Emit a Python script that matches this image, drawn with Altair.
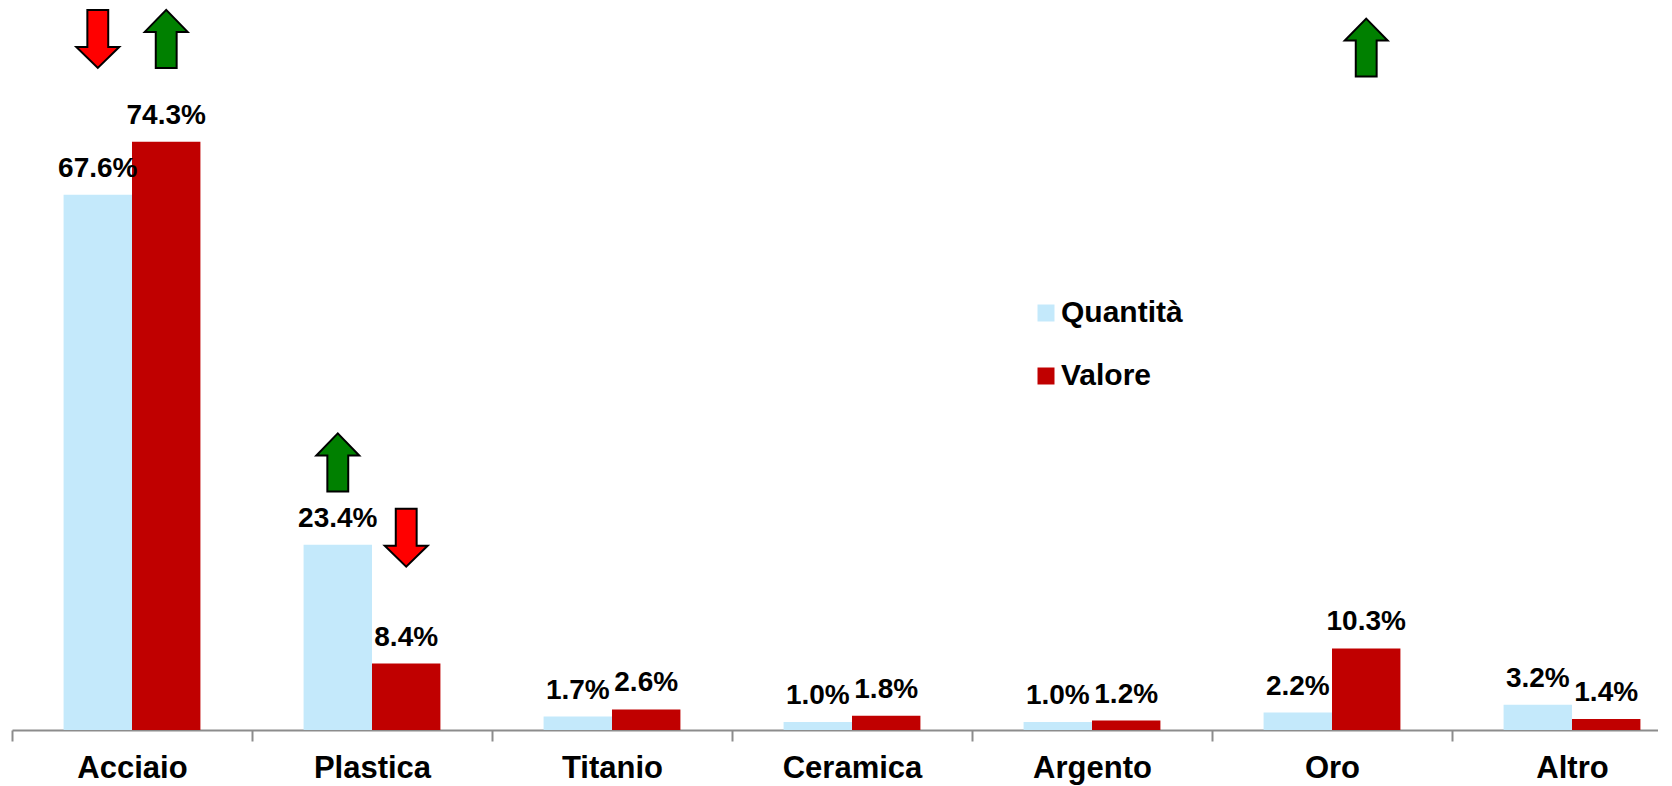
import altair as alt
import pandas as pd

# ---- data ----
categories = ["Acciaio", "Plastica", "Titanio", "Ceramica", "Argento", "Oro", "Altro"]
series = ["Quantità", "Valore"]
quantita = [67.6, 23.4, 1.7, 1.0, 1.0, 2.2, 3.2]
valore = [74.3, 8.4, 2.6, 1.8, 1.2, 10.3, 1.4]

arrow_cat = ["Acciaio", "Acciaio", "Plastica", "Plastica", "Oro"]
arrow_series = ["Quantità", "Valore", "Quantità", "Valore", "Valore"]
arrow_dir = ["giù", "su", "su", "giù", "su"]
arrow_level = [87.3, 87.3, 33.8, 24.3, 86.2]

colors = ["#C4E9FB", "#C00000"]
FONT = "Liberation Sans"

rows = []
for c, q, v in zip(categories, quantita, valore):
    rows.append({"cat": c, "serie": "Quantità", "val": q})
    rows.append({"cat": c, "serie": "Valore", "val": v})
df = pd.DataFrame(rows)

arrows = pd.DataFrame({"cat": arrow_cat, "serie": arrow_series,
                       "dir": arrow_dir, "lvl": arrow_level})

UP = "M0,-1 L0.74,-0.24 L0.36,-0.24 L0.36,1 L-0.36,1 L-0.36,-0.24 L-0.74,-0.24 Z"
DOWN = "M-0.36,-1 L0.36,-1 L0.36,0.28 L0.74,0.28 L0,1 L-0.74,0.28 L-0.36,0.28 Z"

x_enc = alt.X("cat:N", sort=categories,
              scale=alt.Scale(range=[0, 1680], paddingInner=0, paddingOuter=0),
              axis=alt.Axis(title=None, labelAngle=0, labelFont=FONT, labelFontSize=31,
                            labelFontWeight="bold", labelColor="#000000",
                            labelPadding=12, tickBand="extent", tickSize=11,
                            tickColor="#8C8C8C", tickWidth=2,
                            domainColor="#8C8C8C", domainWidth=2, grid=False))
xo_enc = alt.XOffset("serie:N", sort=series,
                     scale=alt.Scale(paddingOuter=0.754, paddingInner=0))
y_scale = alt.Scale(domain=[0, 91.2], nice=False, zero=True)

bars = alt.Chart(df).mark_bar().encode(
    x=x_enc,
    xOffset=xo_enc,
    y=alt.Y("val:Q", scale=y_scale, axis=None),
    color=alt.Color("serie:N", sort=series,
                    scale=alt.Scale(domain=series, range=colors),
                    legend=alt.Legend(title=None, orient="none", legendX=1019, legendY=290,
                                      symbolType="square", symbolSize=289,
                                      symbolStrokeWidth=0, labelFont=FONT,
                                      labelFontSize=30, labelFontWeight="bold",
                                      labelColor="#000000", labelOffset=0,
                                      rowPadding=33, padding=0)),
)

labels = alt.Chart(df).transform_calculate(
    lab="format(datum.val, '.1f') + '%'"
).mark_text(font=FONT, fontSize=28, fontWeight="bold", color="#000000",
            baseline="alphabetic", align="center", dy=-18).encode(
    x=alt.X("cat:N", sort=categories),
    xOffset=alt.XOffset("serie:N", sort=series),
    y=alt.Y("val:Q", scale=y_scale),
    text="lab:N",
)

up_arrows = alt.Chart(arrows).transform_filter(alt.datum.dir == "su").mark_point(
    shape=UP, size=3364, filled=True, fill="#008000", stroke="#000000",
    strokeWidth=2, opacity=1, xOffset=-10
).encode(
    x=alt.X("cat:N", sort=categories),
    xOffset=alt.XOffset("serie:N", sort=series),
    y=alt.Y("lvl:Q", scale=y_scale),
)

down_arrows = alt.Chart(arrows).transform_filter(alt.datum.dir == "giù").mark_point(
    shape=DOWN, size=3364, filled=True, fill="#FF0000", stroke="#000000",
    strokeWidth=2, opacity=1, xOffset=-12
).encode(
    x=alt.X("cat:N", sort=categories),
    xOffset=alt.XOffset("serie:N", sort=series),
    y=alt.Y("lvl:Q", scale=y_scale),
)

chart = alt.layer(bars, labels, up_arrows, down_arrows).properties(
    width=1646, height=722,
    autosize=alt.AutoSizeParams(type="none"),
    padding={"left": 4, "top": 0, "right": 0, "bottom": 56},
    background="#FFFFFF",
).configure_view(stroke=None)

chart.save("out.html", embed_options={"renderer": "svg", "actions": False})
